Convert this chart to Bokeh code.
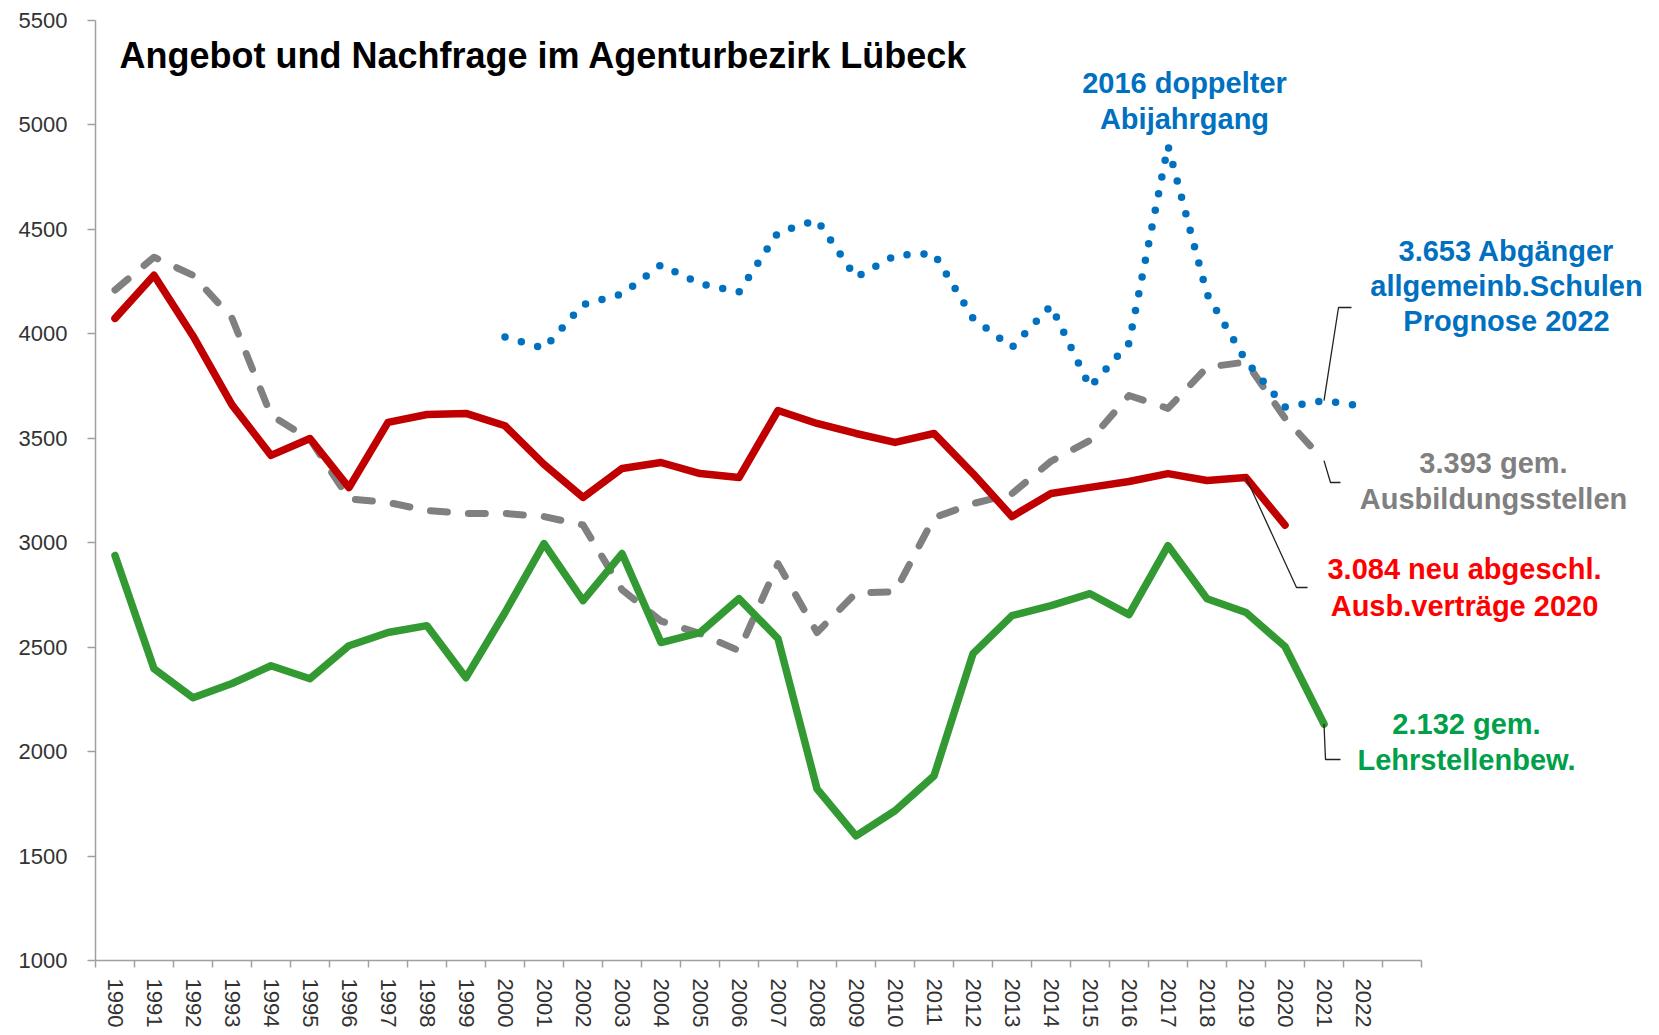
from bokeh.plotting import figure
from bokeh.models import Range1d, FixedTicker, Label
from bokeh.embed import file_html
from bokeh.resources import INLINE

# ---------------- data ----------------
years = list(range(1990, 2023))
y_ticks = list(range(1000, 5501, 500))

# Abgänger allgemeinbildender Schulen (2000-2022)
abg_years = list(range(2000, 2023))
abgaenger = [3985, 3930, 4140, 4190, 4330, 4240, 4200, 4485, 4545, 4270, 4375, 4385,
             4075, 3935, 4135, 3745, 3955, 4900, 4190, 3870, 3650, 3680, 3653]

# gemeldete Ausbildungsstellen (1990-2021)
stellen_years = list(range(1990, 2022))
stellen = [4210, 4367, 4280, 4075, 3610, 3495, 3210, 3193, 3154, 3140, 3140, 3125,
           3085, 2775, 2625, 2565, 2483, 2900, 2570, 2760, 2765, 3120, 3187, 3235,
           3390, 3490, 3705, 3643, 3840, 3865, 3596, 3393]

# neu abgeschlossene Ausbildungsverträge (1990-2020)
vertr_years = list(range(1990, 2021))
vertraege = [4074, 4280, 3990, 3660, 3418, 3499, 3264, 3576, 3614, 3619, 3560, 3375,
             3217, 3355, 3384, 3331, 3312, 3633, 3571, 3523, 3480, 3523, 3331, 3125,
             3236, 3265, 3293, 3331, 3298, 3312, 3084]

# gemeldete Lehrstellenbewerber (1990-2021)
bew_years = list(range(1990, 2022))
bewerber = [2939, 2397, 2258, 2326, 2411, 2349, 2507, 2570, 2603, 2354, 2666, 2996,
            2723, 2948, 2522, 2570, 2732, 2541, 1822, 1597, 1717, 1884, 2469, 2651,
            2699, 2756, 2656, 2986, 2732, 2666, 2503, 2132]

title_text = "Angebot und Nachfrage im Agenturbezirk Lübeck"

# ---------------- layout ----------------
W, H = 1655, 1033
FL, FT, FH = 95, 20, 940          # frame left/top/height in pixels
SLOT = 39                          # pixels per year
FW = W - FL                        # frame reaches the right edge (room for labels)
X0 = 1989.5
X1 = X0 + FW / SLOT
AX_END = 2023.5                    # axis line ends after one empty slot
Y0, Y1 = 1000, 5500
TXT_SHIFT = 10                     # label baseline correction (px)


def px2x(px):
    return X0 + (px - FL) / SLOT


def py2y(py):
    return Y0 + (FT + FH - py) / FH * (Y1 - Y0)


p = figure(width=W, height=H, frame_width=FW, frame_height=FH,
           min_border_left=FL, min_border_top=FT,
           min_border_right=0, min_border_bottom=H - FT - FH,
           x_range=Range1d(X0, X1), y_range=Range1d(Y0, Y1),
           output_backend="svg", toolbar_location=None, tools="")
p.outline_line_color = None
p.grid.visible = False
p.background_fill_color = "white"
p.border_fill_color = "white"

axis_col = "#A0A0A0"
label_font = "Liberation Sans"

xa = p.xaxis[0]
xa.bounds = (X0, AX_END)
xa.ticker = FixedTicker(ticks=years, minor_ticks=[y - 0.5 for y in years] + [2022.5, 2023.5])
xa.major_tick_out = 0
xa.major_tick_in = 0
xa.minor_tick_out = 7
xa.minor_tick_in = 0
xa.minor_tick_line_color = axis_col
xa.minor_tick_line_width = 1.5
xa.axis_line_color = axis_col
xa.axis_line_width = 1.5
xa.major_label_orientation = "vertical"
xa.major_label_standoff = 11
xa.major_label_text_font = label_font
xa.major_label_text_font_size = "22px"
xa.major_label_text_color = "#333333"

ya = p.yaxis[0]
ya.ticker = FixedTicker(ticks=y_ticks)
ya.major_tick_out = 8
ya.major_tick_in = 0
ya.minor_tick_out = 0
ya.minor_tick_in = 0
ya.major_tick_line_color = axis_col
ya.major_tick_line_width = 1.5
ya.axis_line_color = axis_col
ya.axis_line_width = 1.5
ya.major_label_standoff = 20
ya.major_label_text_font = label_font
ya.major_label_text_font_size = "22px"
ya.major_label_text_color = "#333333"

# ---------------- series ----------------
p.line(stellen_years, stellen, line_color="#808080", line_width=7,
       line_dash="17 21", line_cap="round", line_join="round")
p.line(bew_years, bewerber, line_color="#339933", line_width=7.5,
       line_cap="round", line_join="round")
p.line(vertr_years, vertraege, line_color="#C00000", line_width=7.5,
       line_cap="round", line_join="round")
p.line(abg_years, abgaenger, line_color="#0070C0", line_width=7.5,
       line_dash="0 17", line_cap="round", line_join="round")

# ---------------- leader lines ----------------
lead_col = "#222222"
i = abg_years.index(2021)
p.line([abg_years[i], px2x(1338), px2x(1351)], [abgaenger[i], py2y(307), py2y(307)],
       line_color=lead_col, line_width=1.3)
p.line([stellen_years[-1], px2x(1330), px2x(1340)], [stellen[-1], py2y(482), py2y(482)],
       line_color=lead_col, line_width=1.3)
i = vertr_years.index(2019)
p.line([vertr_years[i], px2x(1296), px2x(1307)], [vertraege[i], py2y(587), py2y(587)],
       line_color=lead_col, line_width=1.3)
p.line([bew_years[-1], px2x(1325), px2x(1340)], [bewerber[-1], py2y(759), py2y(759)],
       line_color=lead_col, line_width=1.3)

# ---------------- texts ----------------
def add_label(text, cx, by, color, size="29px", align="center"):
    p.add_layout(Label(x=px2x(cx), y=py2y(by - TXT_SHIFT), text=text, text_align=align,
                       text_baseline="alphabetic", text_font=label_font,
                       text_font_style="bold", text_font_size=size, text_color=color))


add_label(title_text, 119, 65, "#000000", size="36px", align="left")

blue_t = "#0070C0"
add_label("2016 doppelter", 1184, 92, blue_t)
add_label("Abijahrgang", 1184, 128, blue_t)

add_label("3.653 Abgänger", 1506, 260, blue_t)
add_label("allgemeinb.Schulen", 1506, 295, blue_t)
add_label("Prognose 2022", 1506, 330, blue_t)

grey_t = "#808080"
add_label("3.393 gem.", 1493, 472, grey_t)
add_label("Ausbildungsstellen", 1493, 508, grey_t)

red_t = "#FF0000"
add_label("3.084 neu abgeschl.", 1464, 578, red_t)
add_label("Ausb.verträge 2020", 1464, 615, red_t)

green_t = "#00A04A"
add_label("2.132 gem.", 1466, 733, green_t)
add_label("Lehrstellenbew.", 1466, 769, green_t)

open("out.html", "w").write(file_html(p, INLINE))
